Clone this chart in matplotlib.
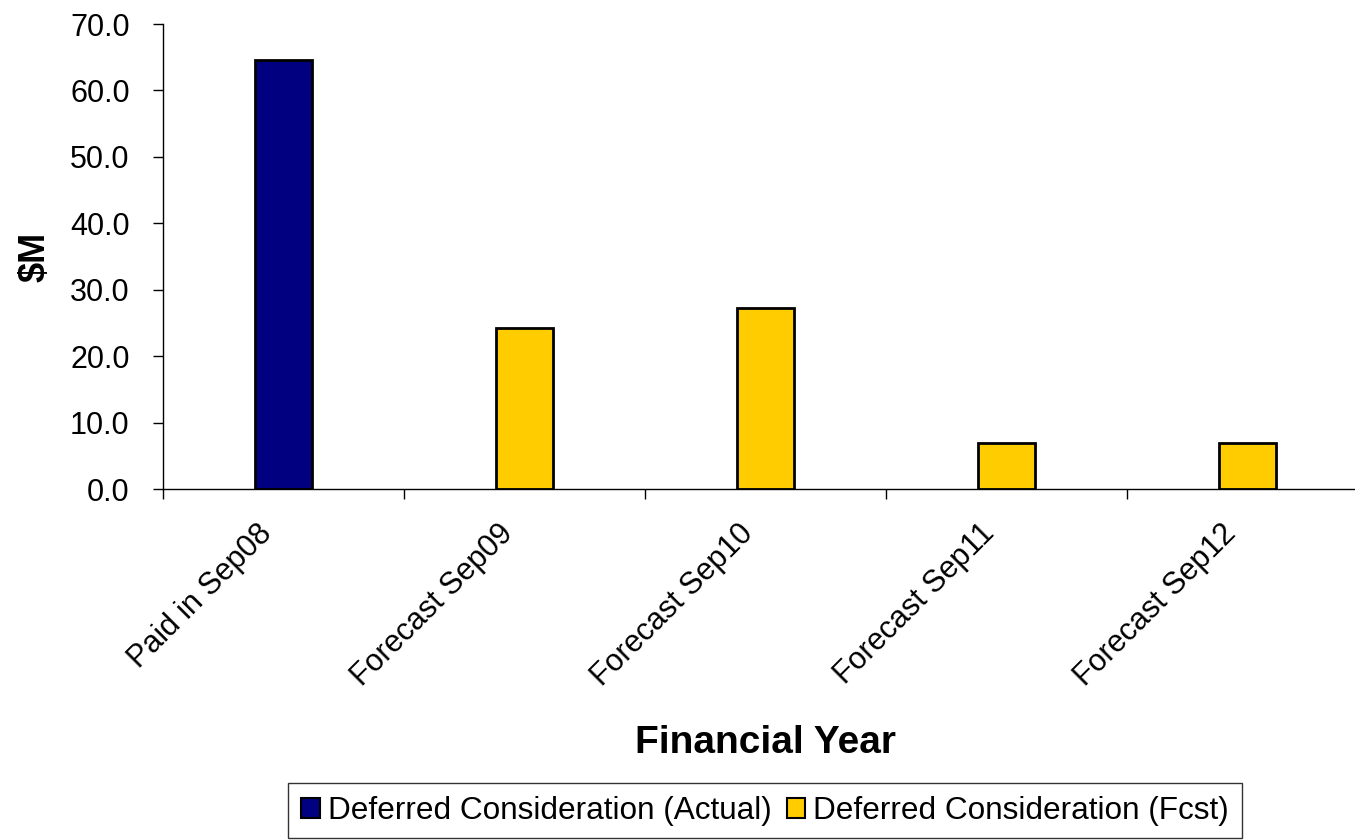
import numpy as np
import matplotlib
matplotlib.use('Agg')
import matplotlib.pyplot as plt
from matplotlib.ticker import FormatStrFormatter, FixedLocator
from matplotlib.patches import Patch
from matplotlib.transforms import ScaledTranslation

# Data
categories = ['Paid in Sep08', 'Forecast Sep09', 'Forecast Sep10', 'Forecast Sep11', 'Forecast Sep12']
actual = [64.6, np.nan, np.nan, np.nan, np.nan]
forecast = [np.nan, 24.2, 27.2, 7.0, 7.0]
series_names = ['Deferred Consideration (Actual)', 'Deferred Consideration (Fcst)']

plt.rcParams['font.family'] = ['Liberation Sans', 'DejaVu Sans']

fig = plt.figure(figsize=(13.55, 8.4), dpi=100)
ax = fig.add_axes([163 / 1355, 1 - 489 / 840, 1205 / 1355, 465 / 840])

x = np.arange(len(categories))
ax.bar(x, actual, width=0.24, color='#000080', edgecolor='black', linewidth=2)
ax.bar(x, forecast, width=0.24, color='#FFCC00', edgecolor='black', linewidth=2)

ax.set_xlim(-0.5, len(categories) - 0.5)
ax.set_ylim(0, 70)
ax.set_yticks(np.arange(0, 71, 10))
ax.yaxis.set_major_formatter(FormatStrFormatter('%.1f'))

# category labels at centres, tick marks at the boundaries
ax.set_xticks(x)
ax.set_xticklabels(categories, rotation=45, ha='right', rotation_mode='anchor')
ax.xaxis.set_minor_locator(FixedLocator(np.arange(-0.5, len(categories), 1.0)))
ax.tick_params(axis='x', which='major', length=0, pad=14, labelsize=22)
ax.tick_params(axis='x', which='minor', length=7, width=1, direction='out')
ax.tick_params(axis='y', length=7, width=1, direction='out', labelsize=22, pad=17)
shift = ScaledTranslation(-0.27, -0.10, fig.dpi_scale_trans)
for lab in ax.get_xticklabels():
    lab.set_transform(lab.get_transform() + shift)

for s in ['top', 'right']:
    ax.spines[s].set_visible(False)
for s in ['left', 'bottom']:
    ax.spines[s].set_linewidth(1)

ax.set_ylabel('\\$M', fontsize=26, fontweight='bold')
ax.yaxis.set_label_coords(-0.092, 0.5)
ax.set_xlabel('Financial Year', fontsize=28, fontweight='bold')
ax.xaxis.set_label_coords(0.5, -0.508)

handles = [Patch(facecolor='#000080', edgecolor='black', linewidth=1.5),
           Patch(facecolor='#FFCC00', edgecolor='black', linewidth=1.5)]
leg = fig.legend(handles, series_names, ncol=2, loc='lower center',
                 bbox_to_anchor=(765 / 1355, 0.0), fontsize=22.7, frameon=True,
                 fancybox=False, edgecolor='black', handlelength=0.6, handleheight=0.6,
                 handletextpad=0.25, columnspacing=0.48, borderpad=0.4, borderaxespad=0.05)
leg.get_frame().set_linewidth(1)

fig.savefig('out.png', dpi=100)
